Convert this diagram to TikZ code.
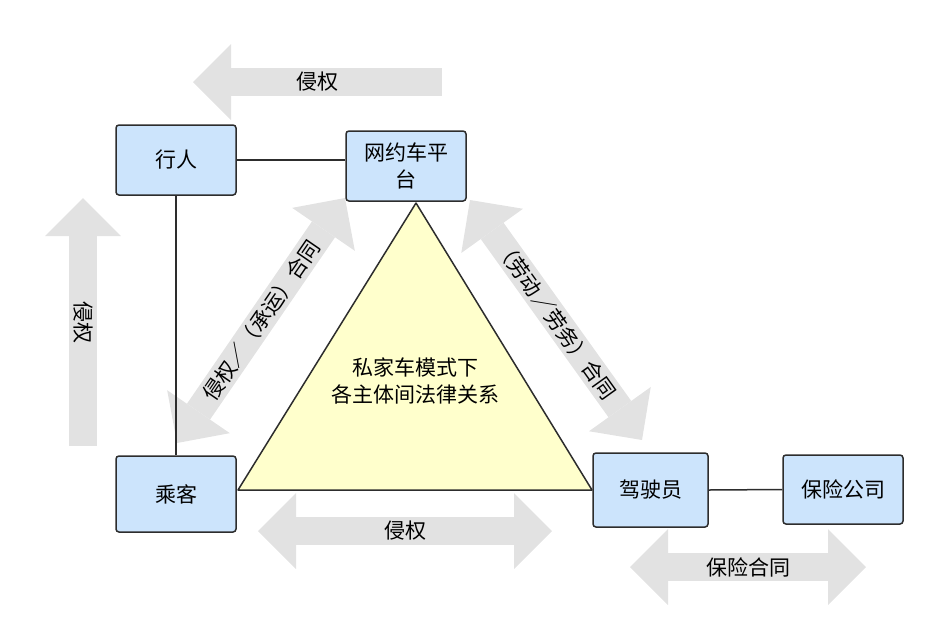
\documentclass[tikz,border=0pt]{standalone}
\usepackage{fontspec}
\newfontfamily\cjkfont{Noto Sans CJK SC}
\usetikzlibrary{arrows.meta}
\definecolor{boxblue}{RGB}{204,228,252}
\definecolor{linegray}{RGB}{45,45,45}
\definecolor{trifill}{RGB}{255,255,204}
\definecolor{arrowgray}{RGB}{226,226,226}

\begin{document}
\begin{tikzpicture}[x=1pt,y=-1pt,
txt/.style={font=\cjkfont\fontsize{21}{27}\selectfont,align=center,inner sep=2pt},
party/.style={txt,rectangle,rounded corners=3pt,draw=linegray,line width=1.5pt,fill=boxblue,minimum width=120pt,minimum height=70pt},
rel/.style={draw=linegray,line width=1.5pt},
fat/.style={draw=arrowgray,line width=28pt},
bighead/.tip={Triangle[length=38pt,width=76pt,line width=0pt]}]
	\useasboundingbox (0,0) rectangle (934,633);
	%relation arrows
	\coordinate (infR) at (442,82);
	\coordinate (infL) at (193,82);
	\draw[fat,-bighead] (infR) -- node[txt] (lab1) {侵权} (infL);
	\coordinate (vertB) at (83,446);
	\coordinate (vertT) at (83,198);
	\draw[fat,-bighead] (vertB) -- node[txt,rotate=-90] (lab2) {侵权} (vertT);
	\coordinate (dlA) at (177,443);
	\coordinate (dlB) at (345,198);
	\draw[fat,bighead-bighead] (dlA) -- node[txt,sloped] (lab3) {侵权／（承运）合同} (dlB);
	\coordinate (drA) at (470,200);
	\coordinate (drB) at (642,440);
	\draw[fat,bighead-bighead] (drA) -- node[txt,sloped] (lab4) {（劳动／劳务）合同} (drB);
	\coordinate (hA) at (258,531);
	\coordinate (hB) at (552,531);
	\draw[fat,bighead-bighead] (hA) -- node[txt] (lab5) {侵权} (hB);
	\coordinate (bxA) at (630,567);
	\coordinate (bxB) at (866,567);
	\draw[fat,bighead-bighead] (bxA) -- node[txt] (lab6) {保险合同} (bxB);
	%triangle
	\coordinate (triT) at (416,203);
	\coordinate (triL) at (238,490);
	\coordinate (triR) at (592,490);
	\draw[rel,fill=trifill,line join=round] (triT) -- (triL) -- (triR) -- cycle;
	\node[txt] at (415,381) (triLab) {私家车模式下\\各主体间法律关系};
	%parties
	\node[party] at (176,160) (xingren) {行人};
	\node[party] at (406,166) (pingtai) {网约车平\\台};
	\node[party,minimum height=76pt] at (176,494) (chengke) {乘客};
	\node[party,minimum width=115pt,minimum height=74pt] at (650.5,490) (siji) {驾驶员};
	\node[party,minimum height=69pt] at (843,489.5) (baoxian) {保险公司};
	
	\draw[rel] (xingren.east) -- (xingren.east -| pingtai.west);
	\draw[rel] (xingren.south) -- (chengke.north);
	\draw[rel] (siji.east) -- (baoxian.west);
\end{tikzpicture}
\end{document}
